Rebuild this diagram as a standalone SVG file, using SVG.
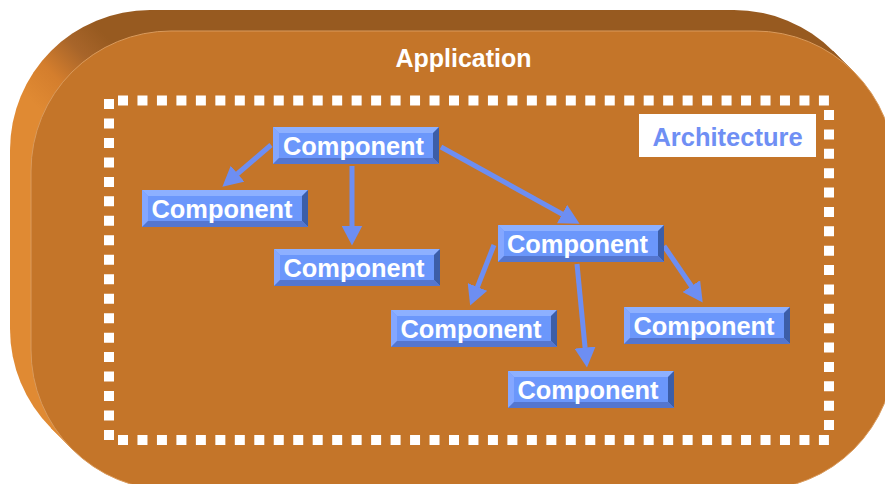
<svg xmlns="http://www.w3.org/2000/svg" xmlns:xlink="http://www.w3.org/1999/xlink" width="885" height="484" viewBox="0 0 885 484">
  <style>
    .lbl { font-family: "Liberation Sans", Arial, sans-serif; font-weight: bold; }
    .comp { font-size: 25.4px; fill: #ffffff; text-anchor: middle; }
    .title { font-size: 25px; fill: #ffffff; text-anchor: middle; }
    .arch { font-size: 25.5px; fill: #6f8ff4; text-anchor: middle; }
    .dots { fill: none; stroke: #ffffff; stroke-width: 10; }
    .edge { fill: none; stroke: #6d8ef2; stroke-width: 5; marker-end: url(#head); }
  </style>
  <defs>
    <!-- extruded side of the application slab: dark on top, light on the left -->
    <linearGradient id="side" gradientUnits="userSpaceOnUse" x1="40" y1="110" x2="110" y2="40">
      <stop offset="0" stop-color="#e08a33"/>
      <stop offset="0.35" stop-color="#d47e2d"/>
      <stop offset="0.7" stop-color="#a8652a"/>
      <stop offset="1" stop-color="#975a20"/>
    </linearGradient>
    <marker id="head" viewBox="0 0 20 21" markerWidth="20" markerHeight="21" refX="0.5" refY="10.5" orient="auto" markerUnits="userSpaceOnUse">
      <path d="M0,0 L20,10.5 L0,21 Z" fill="#6d8ef2"/>
    </marker>
    <!-- bevelled button, 166 x 37 -->
    <symbol id="btn" overflow="visible">
      <rect x="0" y="0" width="166" height="37" fill="#6b97fb"/>
      <polygon points="0,0 166,0 160,6 6,6" fill="#8db0ff"/>
      <polygon points="0,0 6,6 6,31 0,37" fill="#84a7ff"/>
      <polygon points="166,0 166,37 160,31 160,6" fill="#3c5ea8"/>
      <polygon points="0,37 166,37 160,31 6,31" fill="#5476cf"/>
    </symbol>
  </defs>

  <!-- application slab -->
  <g id="application">
    <path d="M833,51 L854,72 L72,449 L51,428 Z" fill="url(#side)"/>
    <rect x="10" y="10" width="864" height="459" rx="140" ry="140" fill="url(#side)"/>
    <path d="M833,51 L854,72 L72,449 L51,428 Z" fill="url(#side)"/>
    <rect x="31" y="31" width="864" height="459" rx="140" ry="140" fill="#c47529" stroke="#d99a5c" stroke-width="1"/>
    <text class="lbl title" x="463.5" y="67">Application</text>
  </g>

  <!-- architecture boundary -->
  <g id="architecture">
    <path class="dots" d="M118,100.5 H829" stroke-dasharray="10 9.47"/>
    <path class="dots" d="M118,440 H829" stroke-dasharray="10 9.47"/>
    <path class="dots" d="M109,99 V440" stroke-dasharray="10 9.47"/>
    <path class="dots" d="M829,110 V430" stroke-dasharray="10 9.375"/>
    <rect x="639" y="114" width="177" height="43" fill="#ffffff"/>
    <text class="lbl arch" x="727.5" y="146">Architecture</text>
  </g>

  <!-- connectors -->
  <g id="connectors">
    <line class="edge" x1="271" y1="145" x2="237.2" y2="174"/>
    <line class="edge" x1="352" y1="166" x2="352" y2="226"/>
    <line class="edge" x1="441" y1="147" x2="562.5" y2="214.3"/>
    <line class="edge" x1="494" y1="245" x2="477.3" y2="287.4"/>
    <line class="edge" x1="577" y1="264" x2="585.1" y2="348.1"/>
    <line class="edge" x1="664" y1="246" x2="691.7" y2="286.5"/>
  </g>

  <!-- components -->
  <g id="component-1">
    <use xlink:href="#btn" x="273" y="127"/>
    <text class="lbl comp" x="353.5" y="155">Component</text>
  </g>
  <g id="component-2">
    <use xlink:href="#btn" x="142" y="190"/>
    <text class="lbl comp" x="222" y="218">Component</text>
  </g>
  <g id="component-3">
    <use xlink:href="#btn" x="274" y="249"/>
    <text class="lbl comp" x="354" y="277">Component</text>
  </g>
  <g id="component-4">
    <use xlink:href="#btn" x="498" y="225"/>
    <text class="lbl comp" x="577.5" y="253">Component</text>
  </g>
  <g id="component-5">
    <use xlink:href="#btn" x="391" y="310"/>
    <text class="lbl comp" x="471" y="338">Component</text>
  </g>
  <g id="component-6">
    <use xlink:href="#btn" x="624" y="307"/>
    <text class="lbl comp" x="704" y="335">Component</text>
  </g>
  <g id="component-7">
    <use xlink:href="#btn" x="508" y="371"/>
    <text class="lbl comp" x="588" y="399">Component</text>
  </g>
</svg>
